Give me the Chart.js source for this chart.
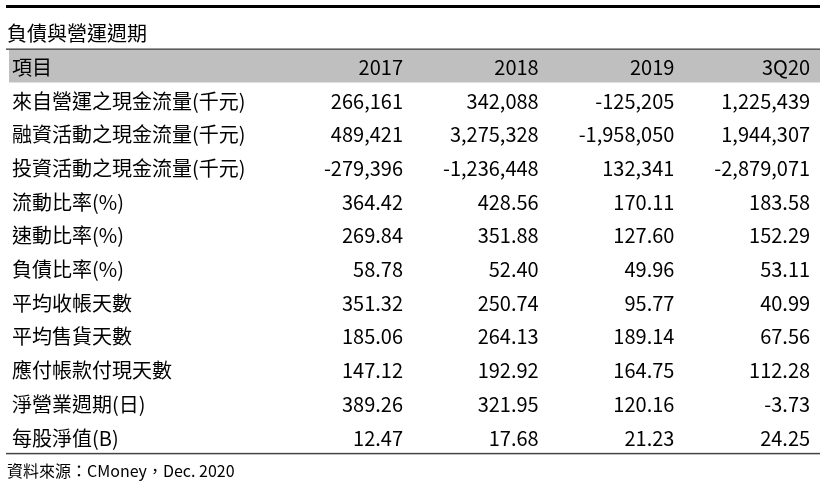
<!DOCTYPE html>
<html><head><meta charset="utf-8">
<script src="https://cdn.jsdelivr.net/npm/chart.js@4/dist/chart.umd.min.js"></script>
<style>html,body{margin:0;padding:0;background:#fff}#w{width:820px;height:486px}</style>
</head><body><div id="w"><canvas id="c"></canvas></div>
<script>
const title = "負債與營運週期";
const source = "資料來源：CMoney，Dec. 2020";
const headerLabel = "項目";
const columns = ["2017","2018","2019","3Q20"];
const rowLabels = ["來自營運之現金流量(千元)","融資活動之現金流量(千元)","投資活動之現金流量(千元)","流動比率(%)","速動比率(%)","負債比率(%)","平均收帳天數","平均售貨天數","應付帳款付現天數","淨營業週期(日)","每股淨值(B)"];
const v2017 = ["266,161","489,421","-279,396","364.42","269.84","58.78","351.32","185.06","147.12","389.26","12.47"];
const v2018 = ["342,088","3,275,328","-1,236,448","428.56","351.88","52.40","250.74","264.13","192.92","321.95","17.68"];
const v2019 = ["-125,205","-1,958,050","132,341","170.11","127.60","49.96","95.77","189.14","164.75","120.16","21.23"];
const v3Q20 = ["1,225,439","1,944,307","-2,879,071","183.58","152.29","53.11","40.99","67.56","112.28","-3.73","24.25"];
const cols = [v2017,v2018,v2019,v3Q20];

const pts = [];
rowLabels.forEach((l,i)=>pts.push({x:0,y:i+1,t:l,a:'left'}));
pts.push({x:0,y:0,t:headerLabel,a:'left'});
columns.forEach((c,j)=>{pts.push({x:j+1,y:0,t:c,a:'right'});cols[j].forEach((v,i)=>pts.push({x:j+1,y:i+1,t:v,a:'right'}));});
pts.push({x:0,y:-1,t:title,a:'left'});
pts.push({x:0,y:11.98,t:source,a:'left',s:16});

const FONT = '"Noto Sans CJK TC","Noto Sans",sans-serif';
const plug = {id:'tbl',
 beforeDatasetsDraw(ch){
  const c=ch.ctx,sy=ch.scales.y;
  const yb=(v)=>sy.getPixelForValue(v);
  c.save();
  c.fillStyle='#bfbfbf'; c.fillRect(9,yb(-0.5),811,yb(0.48)-yb(-0.5));
  c.fillStyle='#000'; c.fillRect(6,5,814,3);
  c.fillStyle='#555'; c.fillRect(6,yb(-0.53),814,1.5);
  c.fillStyle='#444'; c.fillRect(6,yb(11.47),814,1.5);
  c.restore();
 },
 afterDatasetsDraw(ch){
  const c=ch.ctx; const meta=ch.getDatasetMeta(0);
  c.save(); c.fillStyle='#000'; c.textBaseline='middle';
  meta.data.forEach((el,i)=>{const p=pts[i];
   c.font=(p.s||20)+'px '+FONT; c.textAlign=p.a;
   const x = p.x===0 ? 12 : el.x;
   c.fillText(p.t, x - (p.y===-1||p.s?5:0), el.y+1);});
  c.restore();
 }};

new Chart(document.getElementById('c'),{
 type:'scatter',
 data:{datasets:[{data:pts,pointRadius:0,pointHoverRadius:0}]},
 options:{responsive:true,maintainAspectRatio:false,animation:false,
  layout:{padding:0},
  plugins:{legend:{display:false},tooltip:{enabled:false}},
  events:[],
  scales:{
   x:{type:'linear',display:false,min:-1.97,max:4.073},
   y:{type:'linear',display:false,reverse:true,min:-1.967,max:12.454}
  }},
 plugins:[plug]});
</script></body></html>
